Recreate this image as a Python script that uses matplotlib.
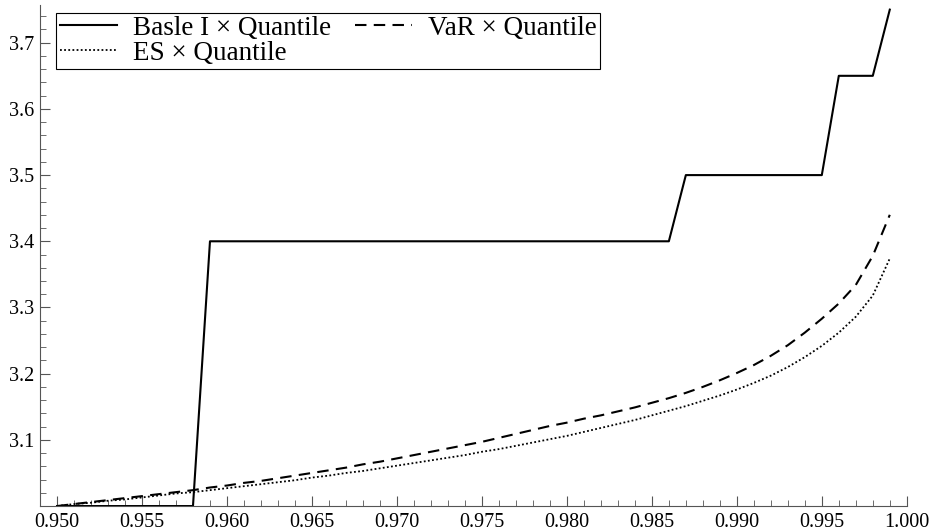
import numpy as np
import matplotlib
matplotlib.use("Agg")
import matplotlib.pyplot as plt
from matplotlib.ticker import MultipleLocator

quantile = [0.950, 0.951, 0.952, 0.953, 0.954, 0.955, 0.956, 0.957, 0.958, 0.959,
            0.960, 0.961, 0.962, 0.963, 0.964, 0.965, 0.966, 0.967, 0.968, 0.969,
            0.970, 0.971, 0.972, 0.973, 0.974, 0.975, 0.976, 0.977, 0.978, 0.979,
            0.980, 0.981, 0.982, 0.983, 0.984, 0.985, 0.986, 0.987, 0.988, 0.989,
            0.990, 0.991, 0.992, 0.993, 0.994, 0.995, 0.996, 0.997, 0.998, 0.999]

basle = [3.0] * 9 + [3.4] * 28 + [3.5] * 9 + [3.65] * 3 + [3.75]

var = [3.000, 3.003, 3.006, 3.009, 3.012, 3.015, 3.018, 3.021, 3.024, 3.028,
       3.031, 3.035, 3.038, 3.042, 3.046, 3.050, 3.054, 3.058, 3.063, 3.067,
       3.072, 3.077, 3.082, 3.087, 3.092, 3.097, 3.103, 3.109, 3.115, 3.121,
       3.126, 3.132, 3.137, 3.143, 3.149, 3.156, 3.163, 3.171, 3.180, 3.190,
       3.201, 3.213, 3.227, 3.243, 3.262, 3.283, 3.306, 3.334, 3.378, 3.440]

es = [3.000, 3.003, 3.005, 3.008, 3.010, 3.013, 3.016, 3.019, 3.021, 3.024,
      3.027, 3.030, 3.033, 3.036, 3.039, 3.043, 3.046, 3.050, 3.053, 3.057,
      3.061, 3.065, 3.069, 3.073, 3.077, 3.082, 3.086, 3.091, 3.096, 3.101,
      3.106, 3.112, 3.118, 3.124, 3.130, 3.137, 3.144, 3.151, 3.159, 3.167,
      3.176, 3.186, 3.197, 3.210, 3.225, 3.242, 3.262, 3.286, 3.318, 3.374]

xticks = [0.950, 0.955, 0.960, 0.965, 0.970, 0.975, 0.980, 0.985, 0.990, 0.995, 1.000]
yticks = [3.1, 3.2, 3.3, 3.4, 3.5, 3.6, 3.7]

plt.rcParams['font.family'] = ['Liberation Serif', 'DejaVu Serif']

fig = plt.figure(figsize=(9.33, 5.31), dpi=100)
ax = fig.add_axes([0.0429, 0.047, 0.929, 0.9436])

ax.plot(quantile, basle, color='black', lw=1.5, label='Basle I × Quantile')
ax.plot(quantile, es, color='black', lw=1.3, linestyle=(0, (1, 1.3)), label='ES × Quantile')
ax.plot(quantile, var, color='black', lw=1.5, linestyle=(0, (5.5, 3.5)), label='VaR × Quantile')

ax.set_xlim(0.949, 1.0)
ax.set_ylim(3.0, 3.757)
ax.set_xticks(xticks)
ax.set_xticklabels(['%.3f' % v for v in xticks])
ax.set_yticks(yticks)
ax.set_yticklabels(['%.1f' % v for v in yticks])
ax.xaxis.set_minor_locator(MultipleLocator(0.001))
ax.yaxis.set_minor_locator(MultipleLocator(0.02))
ax.tick_params(which='both', direction='in', labelsize=14.5, color='#555555')
ax.tick_params(which='major', length=7)
ax.tick_params(which='minor', length=4)
ax.tick_params(axis='x', pad=5)
ax.tick_params(axis='y', pad=4)
for s in ['top', 'right']:
    ax.spines[s].set_visible(False)
for s in ['left', 'bottom']:
    ax.spines[s].set_color('#555555')

leg = ax.legend(loc='upper left', bbox_to_anchor=(0.019, 0.985), ncol=2, fontsize=19.5,
                fancybox=False, framealpha=1, edgecolor='black', handlelength=2.1,
                borderpad=0.12, labelspacing=0.0, columnspacing=0.9, handletextpad=0.6,
                borderaxespad=0)
leg.get_frame().set_linewidth(0.8)

fig.savefig('out.png', dpi=100)
